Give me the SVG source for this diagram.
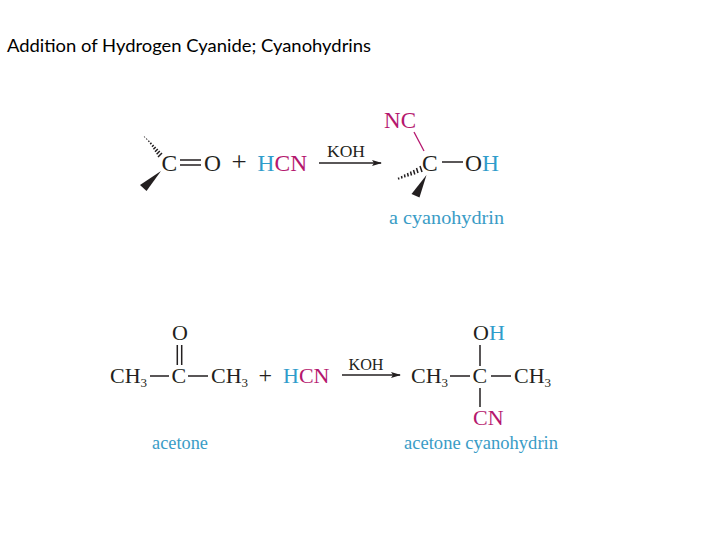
<svg xmlns="http://www.w3.org/2000/svg" width="720" height="540" viewBox="0 0 720 540">
<style>
text{font-family:"Liberation Serif","Times New Roman",serif;fill:#231f20}
.a{font-size:23.500px}.b{font-size:22px}
.k{font-size:17px}.k2{font-size:16px}.s{font-size:13px}
.n{font-size:18px;fill:#3a9cc6}
.bl{fill:#2f9ccb}.mg{fill:#b5176e}
.t{font-family:Lato,"Open Sans","Liberation Sans",sans-serif;font-size:17.500px;fill:#000}
.l{stroke:#231f20;stroke-width:1.500;fill:none}
.lm{stroke:#b5176e;stroke-width:1.300;fill:none}
.h{stroke:#231f20;stroke-width:1.500;fill:none}
</style>
<defs>
<marker id="ah" markerUnits="userSpaceOnUse" markerWidth="10" markerHeight="6" refX="9" refY="3" orient="auto"><path d="M0 0L10 3L0 6L2 3Z" fill="#231f20"/></marker>
</defs>
<rect width="720" height="540" fill="#fff"/>
<text id="title" class="t" x="7" y="51.500" textLength="364" lengthAdjust="spacingAndGlyphs">Addition of Hydrogen Cyanide; Cyanohydrins</text>
<g id="connectors">
<path class="l" d="M180 160H201M180 165H201"/>
<path class="l" d="M319 163H381" marker-end="url(#ah)"/>
<path class="lm" d="M414 132L424 151"/>
<path class="l" d="M442 162H463"/>
<path class="l" d="M150 376H169M188 376H208"/>
<path class="l" d="M177.300 345V365M181.700 345V365"/>
<path class="l" d="M342 375H400" marker-end="url(#ah)"/>
<path class="l" d="M450 376H470M491 376H511"/>
<path class="l" d="M480 345V366M480 388V407"/>
</g>
<g id="ketone">
<text class="a" x="161.500" y="171">C</text>
<text class="a" x="204" y="171">O</text>
<path class="h" d="M162 153L158 157M159.800 151L156.600 154.200M157.800 149L155 151.800M155.700 147L153.400 149.300M153.700 145L152 146.700M151.500 142.800L150.200 144.100M149.300 140.800L148.400 141.700M147 138.800L146.400 139.400M144.800 136.800L144.300 137.300"/>
<path d="M161 171L140 185L146.500 191Z" fill="#231f20"/>
</g>
<g id="plus1"><text class="a" x="231.500" y="171" style="font-size:27px">+</text></g>
<g id="hcn1"><text class="a" x="257.500" y="171"><tspan class="bl">H</tspan><tspan class="mg">CN</tspan></text></g>
<g id="koh1"><text class="k" x="327" y="157" textLength="38" lengthAdjust="spacingAndGlyphs">KOH</text></g>
<g id="cyanohydrin">
<text class="a mg" x="384" y="128" textLength="32" lengthAdjust="spacingAndGlyphs">NC</text>
<text class="a" x="422" y="170.500">C</text>
<text class="a" x="465" y="170.500">O<tspan class="bl">H</tspan></text>
<path class="h" d="M420 166L422 172M416.500 168L418 173M413.500 170L414.800 174.500M410.500 171.500L411.500 175.500M407.500 173L408.300 176.500M404.500 174.300L405 177.300M401.500 176L402 178.500M398.500 177.500L398.800 179.500"/>
<path d="M426.500 175L411.500 194L419.500 197.500Z" fill="#231f20"/>
</g>
<g id="label-cyanohydrin"><text class="n" x="389" y="224" textLength="115" lengthAdjust="spacingAndGlyphs">a cyanohydrin</text></g>
<g id="acetone">
<text class="b" x="110" y="383">CH<tspan class="s" dy="4">3</tspan></text>
<text class="b" x="171.500" y="383">C</text>
<text class="b" x="211" y="383">CH<tspan class="s" dy="4">3</tspan></text>
<text class="b" x="172" y="340">O</text>
</g>
<g id="plus2"><text class="b" x="258.500" y="383" style="font-size:24px">+</text></g>
<g id="hcn2"><text class="b" x="283" y="383"><tspan class="bl">H</tspan><tspan class="mg">CN</tspan></text></g>
<g id="koh2"><text class="k2" x="348.500" y="370" textLength="35" lengthAdjust="spacingAndGlyphs">KOH</text></g>
<g id="label-acetone"><text class="n" x="152" y="449" textLength="56" lengthAdjust="spacingAndGlyphs">acetone</text></g>
<g id="acetone-cyanohydrin">
<text class="b" x="411" y="383">CH<tspan class="s" dy="4">3</tspan></text>
<text class="b" x="472.500" y="383">C</text>
<text class="b" x="514" y="383">CH<tspan class="s" dy="4">3</tspan></text>
<text class="b" x="473" y="340">O<tspan class="bl">H</tspan></text>
<text class="b mg" x="473" y="425">CN</text>
</g>
<g id="label-acetone-cyanohydrin"><text class="n" x="404" y="449" textLength="154" lengthAdjust="spacingAndGlyphs">acetone cyanohydrin</text></g>
</svg>
